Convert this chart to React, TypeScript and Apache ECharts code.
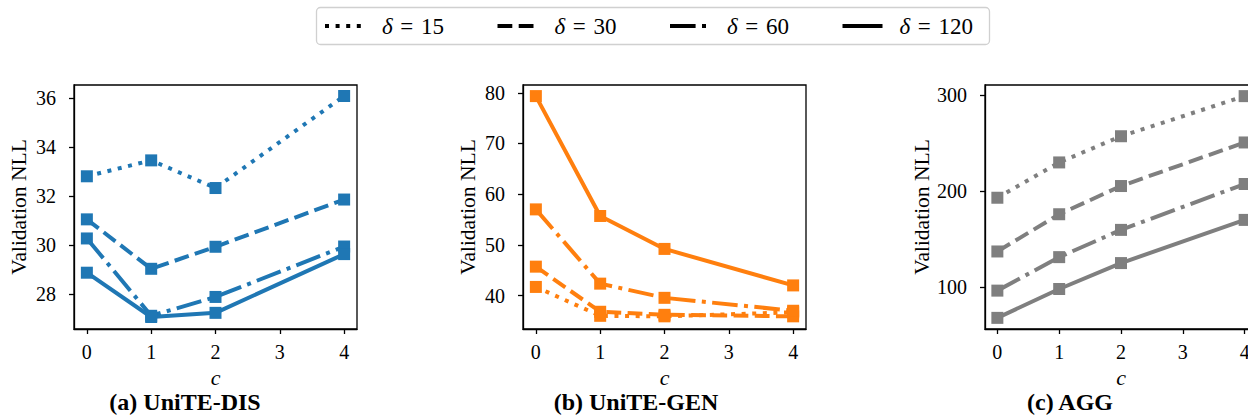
import React, { useEffect, useRef } from "react";
import * as echarts from "echarts";

// ---- data ----
const cValues = [0, 1, 2, 4];
const deltaLabels = ["15", "30", "60", "120"];

// Panel (a) UniTE-DIS
const disD15 = [32.8, 33.45, 32.32, 36.08];
const disD30 = [31.04, 29.02, 29.92, 31.85];
const disD60 = [30.26, 27.1, 27.87, 29.93];
const disD120 = [28.86, 27.05, 27.22, 29.62];
const disTickStep = 2;

// Panel (b) UniTE-GEN
const genD15 = [41.7, 36.0, 35.9, 36.7];
const genD30 = [45.7, 36.8, 36.2, 35.9];
const genD60 = [57.0, 42.35, 39.55, 37.0];
const genD120 = [79.35, 55.7, 49.2, 42.0];
const genTickStep = 10;

// Panel (c) AGG
const aggD15 = [193.4, 230.2, 257.5, 299.3];
const aggD30 = [137.4, 176.2, 205.6, 251.0];
const aggD60 = [96.6, 131.5, 159.9, 207.7];
const aggD120 = [68.2, 98.3, 125.3, 170.3];
const aggTickStep = 100;

const xTickStep = 1;
const panelTitles = ["(a) UniTE-DIS", "(b) UniTE-GEN", "(c) AGG"];

// ---- styles ----
const FONT = "'Liberation Serif', 'DejaVu Serif', serif";
const LW = 4;
const dashes: (number[] | "solid")[] = [
  [LW * 1, LW * 1.65],
  [LW * 3.7, LW * 1.6],
  [LW * 6.4, LW * 1.6, LW * 1, LW * 1.6],
  "solid",
];
const X_MIN = -0.2;
const X_MAX = 4.2;
const TOP = 85;
const HEIGHT = 244;

const panels = [
  {
    series: [disD15, disD30, disD60, disD120],
    step: disTickStep,
    color: "#1f77b4",
    min: 26.56,
    max: 36.53,
    left: 74,
    width: 283,
    titleX: 185,
  },
  {
    series: [genD15, genD30, genD60, genD120],
    step: genTickStep,
    color: "#ff7f0e",
    min: 33.4,
    max: 81.54,
    left: 523,
    width: 283,
    titleX: 636,
  },
  {
    series: [aggD15, aggD30, aggD60, aggD120],
    step: aggTickStep,
    color: "#7f7f7f",
    min: 56.6,
    max: 310.9,
    left: 985,
    width: 272,
    titleX: 1070,
  },
];

const isMultiple = (v: number, step: number) => Math.abs(v / step - Math.round(v / step)) < 1e-6;

export default function App() {
  const ref = useRef<HTMLDivElement>(null);

  useEffect(() => {
    document.body.style.margin = "0";
    if (!ref.current) return;
    const chart = echarts.init(ref.current, null, { renderer: "svg" });

    const tickLine = { color: "#000", width: 1.3 };
    const grid: any[] = [];
    const xAxis: any[] = [];
    const yAxis: any[] = [];

    panels.forEach((p, i) => {
      grid.push({
        left: p.left,
        top: TOP,
        width: p.width,
        height: HEIGHT,
        show: true,
        borderColor: "#000",
        borderWidth: 1.3,
        backgroundColor: "transparent",
        containLabel: false,
        outerBoundsMode: "none",
      });
      xAxis.push({
        type: "value",
        gridIndex: i,
        position: "bottom",
        min: X_MIN,
        max: X_MAX,
        minInterval: xTickStep,
        maxInterval: xTickStep,
        name: "c",
        nameLocation: "middle",
        nameGap: 36,
        nameTextStyle: { fontFamily: FONT, fontSize: 22, fontStyle: "italic", color: "#000" },
        axisLine: { show: true, onZero: false, lineStyle: tickLine },
        axisTick: { show: true, length: 5, inside: false, lineStyle: tickLine },
        axisLabel: {
          show: true,
          margin: 13,
          fontFamily: FONT,
          fontSize: 20,
          color: "#000",
          showMinLabel: false,
          showMaxLabel: false,
          formatter: (v: number) => (isMultiple(v, xTickStep) ? String(v) : ""),
        },
        splitLine: { show: false },
      });
      yAxis.push({
        type: "value",
        gridIndex: i,
        position: "left",
        min: p.min,
        max: p.max,
        minInterval: p.step,
        maxInterval: p.step,
        name: "Validation NLL",
        nameLocation: "middle",
        nameGap: 44,
        nameTextStyle: { fontFamily: FONT, fontSize: 21.5, color: "#000" },
        axisLine: { show: true, onZero: false, lineStyle: tickLine },
        axisTick: { show: true, length: 5, inside: false, lineStyle: tickLine },
        axisLabel: {
          show: true,
          margin: 18,
          fontFamily: FONT,
          fontSize: 20,
          color: "#000",
          showMinLabel: false,
          showMaxLabel: false,
          formatter: (v: number) => (isMultiple(v, p.step) ? String(v) : ""),
        },
        splitLine: { show: false },
      });
    });

    const series: any[] = [];
    panels.forEach((p, i) => {
      p.series.forEach((vals, k) => {
        series.push({
          type: "line",
          name: `δ = ${deltaLabels[k]}`,
          xAxisIndex: i,
          yAxisIndex: i,
          data: vals.map((v, j) => [cValues[j], v]),
          symbol: "rect",
          symbolSize: 12,
          showSymbol: true,
          color: p.color,
          itemStyle: { color: p.color },
          lineStyle: { color: p.color, width: LW, type: dashes[k], cap: "butt" },
          clip: false,
          z: 2 + k,
        });
      });
    });

    const title = panels.map((p, i) => ({
      text: panelTitles[i],
      left: p.titleX,
      top: 390,
      textAlign: "center",
      padding: 0,
      textStyle: { fontFamily: FONT, fontSize: 24, lineHeight: 24, fontWeight: "bold", color: "#000" },
    }));

    // legend built as graphics
    const legendChildren: any[] = [
      {
        type: "rect",
        shape: { x: 316.5, y: 7.5, width: 673, height: 37, r: 4 },
        style: { fill: "#fff", stroke: "#d0d0d0", lineWidth: 1.3 },
      },
    ];
    deltaLabels.forEach((lab, k) => {
      const sx = 325 + k * 172.5;
      legendChildren.push({
        type: "line",
        shape: { x1: sx, y1: 26, x2: sx + 40, y2: 26 },
        style: {
          stroke: "#000",
          lineWidth: LW,
          lineDash: dashes[k] === "solid" ? null : dashes[k],
          lineCap: "butt",
        },
      });
      legendChildren.push({
        type: "text",
        x: sx + 57,
        y: 26,
        style: {
          text: `{i|δ}\u2004=\u2004${lab}`,
          rich: {
            i: { fontFamily: FONT, fontSize: 23, fontStyle: "italic", fill: "#000" },
          },
          fontFamily: FONT,
          fontSize: 23,
          fill: "#000",
          verticalAlign: "middle",
          textAlign: "left",
        },
      });
    });

    chart.setOption({
      animation: false,
      backgroundColor: "#fff",
      title,
      grid,
      xAxis,
      yAxis,
      series,
      graphic: [{ type: "group", children: legendChildren }],
    });

    return () => chart.dispose();
  }, []);

  return <div ref={ref} style={{ width: 1248, height: 417 }} />;
}
